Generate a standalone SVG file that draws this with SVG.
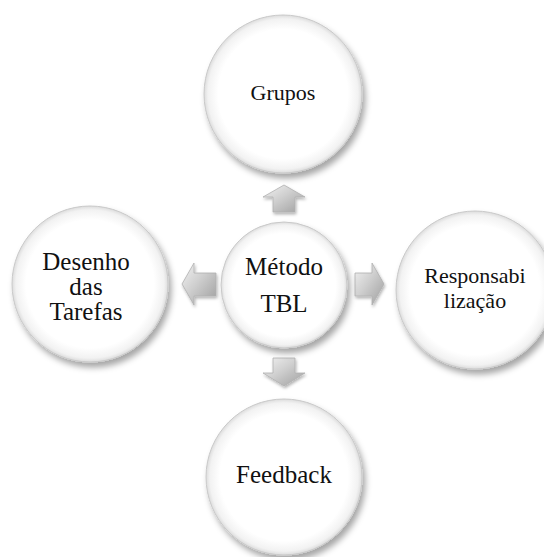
<svg xmlns="http://www.w3.org/2000/svg" width="544" height="557" viewBox="0 0 544 557">
<defs>
<radialGradient id="cg" cx="0.5" cy="0.5" r="0.5">
<stop offset="0" stop-color="#ffffff"/>
<stop offset="0.82" stop-color="#ffffff"/>
<stop offset="0.95" stop-color="#f2f2f2"/>
<stop offset="1" stop-color="#dcdcdc"/>
</radialGradient>
<linearGradient id="ag" x1="0" y1="0" x2="1" y2="1">
<stop offset="0" stop-color="#f2f2f2"/>
<stop offset="0.45" stop-color="#cfcfcf"/>
<stop offset="1" stop-color="#9e9e9e"/>
</linearGradient>
<filter id="sh" x="-20%" y="-20%" width="150%" height="150%">
<feDropShadow dx="3" dy="5" stdDeviation="3" flood-color="#000" flood-opacity="0.35"/>
</filter>
<filter id="ash" x="-30%" y="-30%" width="160%" height="160%">
<feDropShadow dx="1" dy="2" stdDeviation="1.5" flood-color="#000" flood-opacity="0.3"/>
</filter>
</defs>
<style>
.c{fill:url(#cg);stroke:#c9c9c9;stroke-width:1;filter:url(#sh)}
.a{fill:url(#ag);stroke:#b0b0b0;stroke-width:0.8;filter:url(#ash)}
text{font-family:"Liberation Serif","Times New Roman",serif;fill:#111;text-anchor:middle}
</style>
<rect width="544" height="557" fill="#ffffff"/>
<g id="connectors">
<polygon class="a" points="284,185 305,197 295,197 295,212 273,212 273,197 263,197"/>
<polygon class="a" points="182,284 194,263 194,273 216,273 216,296 194,296 194,305"/>
<polygon class="a" points="384,284 372,263 372,273 355,273 355,296 372,296 372,305"/>
<polygon class="a" points="284,386 305,373 295,373 295,358 273,358 273,373 263,373"/>
</g>
<g id="node-grupos">
<circle class="c" cx="283" cy="94" r="79"/>
<text x="283" y="100" font-size="22">Grupos</text>
</g>
<g id="node-metodo">
<circle class="c" cx="284" cy="285" r="63"/>
<text x="284" y="275" font-size="25">Método</text>
<text x="284" y="312" font-size="25">TBL</text>
</g>
<g id="node-desenho">
<circle class="c" cx="90" cy="284" r="78"/>
<text x="86" y="270" font-size="25">Desenho</text>
<text x="86" y="295" font-size="25">das</text>
<text x="86" y="320" font-size="25">Tarefas</text>
</g>
<g id="node-responsabilizacao">
<circle class="c" cx="475" cy="290" r="79"/>
<text x="475" y="283" font-size="22">Responsabi</text>
<text x="475" y="308" font-size="22">lização</text>
</g>
<g id="node-feedback">
<circle class="c" cx="284" cy="477" r="78"/>
<text x="284" y="483" font-size="25">Feedback</text>
</g>
</svg>
